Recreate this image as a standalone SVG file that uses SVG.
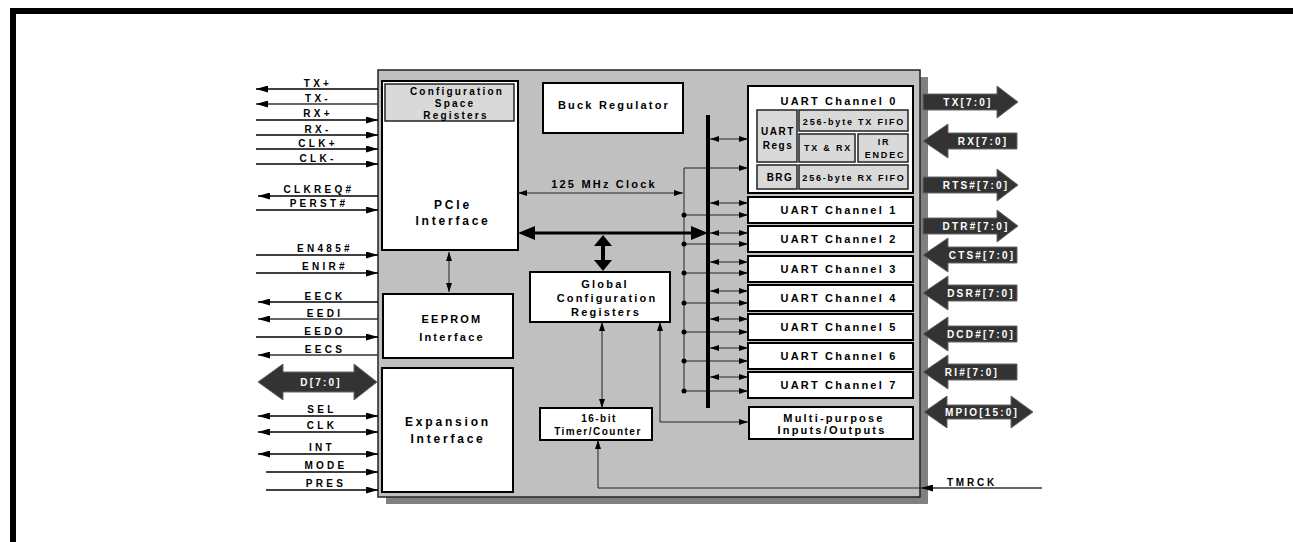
<svg xmlns="http://www.w3.org/2000/svg" width="1293" height="542" viewBox="0 0 1293 542">
<style>
text{font-family:"Liberation Sans",Arial,sans-serif;font-weight:bold;fill:#000;text-anchor:middle}
.sig{font-size:10px;letter-spacing:3.3px}
.b11{font-size:11px;letter-spacing:2.2px}
.b12{font-size:12px;letter-spacing:2.8px}
.s10{font-size:10px;letter-spacing:1.5px}
.cfg{font-size:10px;letter-spacing:2.2px}
.s9{font-size:9px;letter-spacing:1.8px}
.box{fill:#fff;stroke:#000;stroke-width:2}
.sub{fill:#d9d9d9;stroke:#222;stroke-width:1.5}
.ln{stroke:#000;stroke-width:1.5;fill:none}
.thin{stroke:#222;stroke-width:1;fill:none}
.fat{fill:#333;stroke:#666;stroke-width:1}
.fl{fill:#fff;font-size:10px;letter-spacing:2.2px}
</style>
<defs>
<marker id="ah" viewBox="0 0 12 7" refX="12" refY="3.5" markerWidth="12" markerHeight="7" markerUnits="userSpaceOnUse" orient="auto-start-reverse"><path d="M0,0 L12,3.5 L0,7 z" fill="#000"/></marker>
<marker id="as" viewBox="0 0 9 6" refX="9" refY="3" markerWidth="9" markerHeight="6" markerUnits="userSpaceOnUse" orient="auto-start-reverse"><path d="M0,0 L9,3 L0,6 z" fill="#000"/></marker>
</defs>
<rect width="1293" height="542" fill="#fff"/>
<rect x="10" y="8" width="1283" height="6" fill="#000"/>
<rect x="10" y="8" width="6" height="534" fill="#000"/>

<g id="chip">
<rect x="386" y="77" width="542" height="427" fill="#808080"/>
<rect x="378" y="70" width="542" height="427" fill="#c0c0c0" stroke="#222" stroke-width="1.5"/>
</g>

<g id="pcie">
<rect class="box" x="382" y="81" width="136" height="169"/>
<rect class="sub" x="385" y="84" width="129" height="37"/>
<text class="cfg" x="457" y="95">Configuration</text>
<text class="cfg" x="455" y="107">Space</text>
<text class="cfg" x="456" y="119">Registers</text>
<text class="b12" x="453" y="209">PCIe</text>
<text class="b12" x="453" y="225">Interface</text>
</g>
<g id="eeprom">
<rect class="box" x="383" y="294" width="130" height="64"/>
<text class="b11" x="452" y="323">EEPROM</text>
<text class="b11" x="452" y="341">Interface</text>
</g>
<g id="expansion">
<rect class="box" x="382" y="368" width="131" height="124"/>
<text class="b12" x="448" y="426">Expansion</text>
<text class="b12" x="448" y="443">Interface</text>
</g>
<g id="buck">
<rect class="box" x="543" y="83" width="140" height="50"/>
<text class="b11" x="614" y="109">Buck Regulator</text>
</g>
<g id="global">
<rect class="box" x="530" y="272" width="140" height="50"/>
<text class="b11" x="605" y="288">Global</text>
<text class="b11" x="607" y="302">Configuration</text>
<text class="b11" x="606" y="316">Registers</text>
</g>
<g id="timer">
<rect class="box" x="540" y="408" width="112" height="32"/>
<text class="s10" x="599" y="422">16-bit</text>
<text class="s10" x="598" y="435">Timer/Counter</text>
</g>
<g id="uart0">
<rect class="box" x="748" y="86" width="165" height="107"/>
<text class="b11" x="839" y="105">UART Channel 0</text>
<rect class="sub" x="757" y="110" width="40" height="52"/>
<text class="s10" x="778" y="135">UART</text>
<text class="s10" x="778" y="149">Regs</text>
<rect class="sub" x="799" y="110" width="109" height="21"/>
<text class="s9" x="854" y="124.5">256-byte TX FIFO</text>
<rect class="sub" x="799" y="134" width="56" height="28"/>
<text class="s9" x="828" y="151">TX &amp; RX</text>
<rect class="sub" x="858" y="134" width="50" height="28"/>
<text class="s9" x="884" y="145">IR</text>
<text class="s9" x="885" y="158">ENDEC</text>
<rect class="sub" x="757" y="165" width="40" height="24"/>
<text class="s10" x="780" y="181">BRG</text>
<rect class="sub" x="799" y="165" width="109" height="24"/>
<text class="s9" x="854" y="181">256-byte RX FIFO</text>
</g>
<g id="uart1"><rect class="box" x="748" y="197" width="165" height="26"/><text class="b11" x="839" y="214">UART Channel 1</text></g>
<g id="uart2"><rect class="box" x="748" y="226" width="165" height="26"/><text class="b11" x="839" y="243">UART Channel 2</text></g>
<g id="uart3"><rect class="box" x="748" y="256" width="165" height="26"/><text class="b11" x="839" y="273">UART Channel 3</text></g>
<g id="uart4"><rect class="box" x="748" y="285" width="165" height="26"/><text class="b11" x="839" y="302">UART Channel 4</text></g>
<g id="uart5"><rect class="box" x="748" y="314" width="165" height="26"/><text class="b11" x="839" y="331">UART Channel 5</text></g>
<g id="uart6"><rect class="box" x="748" y="343" width="165" height="26"/><text class="b11" x="839" y="360">UART Channel 6</text></g>
<g id="uart7"><rect class="box" x="748" y="372" width="165" height="26"/><text class="b11" x="839" y="389">UART Channel 7</text></g>
<g id="mpio">
<rect class="box" x="749" y="407" width="164" height="32"/>
<text class="b11" x="834" y="422">Multi-purpose</text>
<text class="b11" x="832" y="434">Inputs/Outputs</text>
</g>

<g id="connectors">
<g class="ln">
<line x1="256" y1="89" x2="378" y2="89" marker-start="url(#ah)"/>
<line x1="256" y1="104" x2="378" y2="104" marker-start="url(#ah)" stroke="#333"/>
<line x1="256" y1="120" x2="378" y2="120" marker-end="url(#ah)"/>
<line x1="256" y1="135" x2="378" y2="135" marker-end="url(#ah)"/>
<line x1="256" y1="149" x2="378" y2="149" marker-end="url(#ah)"/>
<line x1="256" y1="164" x2="378" y2="164" marker-end="url(#ah)"/>
<line x1="258" y1="196" x2="378" y2="196" marker-start="url(#ah)"/>
<line x1="256" y1="210" x2="378" y2="210" marker-end="url(#ah)"/>
<line x1="256" y1="255" x2="378" y2="255" marker-end="url(#ah)"/>
<line x1="256" y1="273" x2="378" y2="273" marker-end="url(#ah)"/>
<line x1="258" y1="302" x2="378" y2="302" marker-start="url(#ah)"/>
<line x1="258" y1="319" x2="378" y2="319" marker-start="url(#ah)" stroke="#333"/>
<line x1="256" y1="337" x2="378" y2="337" marker-end="url(#ah)"/>
<line x1="258" y1="355" x2="378" y2="355" marker-start="url(#ah)" stroke="#333"/>
<line x1="258" y1="416" x2="378" y2="416" marker-start="url(#ah)" marker-end="url(#ah)"/>
<line x1="258" y1="432" x2="378" y2="432" marker-start="url(#ah)" marker-end="url(#ah)"/>
<line x1="258" y1="454" x2="378" y2="454" marker-start="url(#ah)" marker-end="url(#ah)"/>
<line x1="266" y1="472" x2="378" y2="472" marker-end="url(#ah)"/>
<line x1="266" y1="490" x2="378" y2="490" marker-end="url(#ah)"/>
<line x1="1042" y1="488" x2="921" y2="488" marker-end="url(#ah)" stroke="#333"/>
</g>
<g class="thin">
<line x1="449" y1="252" x2="449" y2="292" marker-start="url(#as)" marker-end="url(#as)"/>
<line x1="518" y1="193" x2="683" y2="193" marker-start="url(#as)" marker-end="url(#as)"/>
<line x1="684" y1="168" x2="684" y2="391"/>
<line x1="684" y1="168" x2="748" y2="168" marker-end="url(#as)"/>
<line x1="684" y1="215" x2="748" y2="215" marker-end="url(#as)"/>
<line x1="684" y1="244" x2="748" y2="244" marker-end="url(#as)"/>
<line x1="684" y1="273" x2="748" y2="273" marker-end="url(#as)"/>
<line x1="684" y1="303" x2="748" y2="303" marker-end="url(#as)"/>
<line x1="684" y1="332" x2="748" y2="332" marker-end="url(#as)"/>
<line x1="684" y1="361" x2="748" y2="361" marker-end="url(#as)"/>
<line x1="684" y1="391" x2="748" y2="391" marker-end="url(#as)"/>
<line x1="710" y1="139" x2="748" y2="139" marker-start="url(#as)" marker-end="url(#as)"/>
<line x1="710" y1="203" x2="748" y2="203" marker-start="url(#as)" marker-end="url(#as)"/>
<line x1="710" y1="233" x2="748" y2="233" marker-start="url(#as)" marker-end="url(#as)"/>
<line x1="710" y1="262" x2="748" y2="262" marker-start="url(#as)" marker-end="url(#as)"/>
<line x1="710" y1="291" x2="748" y2="291" marker-start="url(#as)" marker-end="url(#as)"/>
<line x1="710" y1="319" x2="748" y2="319" marker-start="url(#as)" marker-end="url(#as)"/>
<line x1="710" y1="348" x2="748" y2="348" marker-start="url(#as)" marker-end="url(#as)"/>
<line x1="710" y1="377" x2="748" y2="377" marker-start="url(#as)" marker-end="url(#as)"/>
<line x1="602" y1="322" x2="602" y2="408" marker-start="url(#as)" marker-end="url(#as)"/>
<path d="M660,322 V422 H748" marker-start="url(#as)" marker-end="url(#as)"/>
<path d="M920,488 H598 V440" marker-end="url(#as)"/>
</g>
<g fill="#000">
<circle cx="684" cy="215" r="2.5"/><circle cx="684" cy="244" r="2.5"/><circle cx="684" cy="273" r="2.5"/>
<circle cx="684" cy="303" r="2.5"/><circle cx="684" cy="332" r="2.5"/><circle cx="684" cy="361" r="2.5"/>
<circle cx="684" cy="391" r="2.5"/>
<rect x="706" y="115" width="4" height="293"/>
<rect x="533" y="231.5" width="160" height="3"/>
<polygon points="518,233 535,226 535,240"/>
<polygon points="708,233 691,226 691,240"/>
<rect x="601" y="244" width="4" height="18"/>
<polygon points="603,235 594,246 612,246"/>
<polygon points="603,271 594,260 612,260"/>
</g>
</g>

<g id="labels">
<text class="sig" x="318" y="87">TX+</text>
<text class="sig" x="318" y="102">TX-</text>
<text class="sig" x="318" y="117">RX+</text>
<text class="sig" x="318" y="133">RX-</text>
<text class="sig" x="318" y="147">CLK+</text>
<text class="sig" x="318" y="162">CLK-</text>
<text class="sig" x="319" y="193">CLKREQ#</text>
<text class="sig" x="319" y="207">PERST#</text>
<text class="sig" x="325" y="252">EN485#</text>
<text class="sig" x="325" y="270">ENIR#</text>
<text class="sig" x="325" y="300">EECK</text>
<text class="sig" x="325" y="317">EEDI</text>
<text class="sig" x="325" y="335">EEDO</text>
<text class="sig" x="325" y="353">EECS</text>
<text class="sig" x="322" y="413">SEL</text>
<text class="sig" x="322" y="429">CLK</text>
<text class="sig" x="322" y="451">INT</text>
<text class="sig" x="326" y="469">MODE</text>
<text class="sig" x="326" y="487">PRES</text>
<text class="b11" x="604" y="188">125 MHz Clock</text>
<text class="sig" x="972" y="486" style="letter-spacing:2.8px">TMRCK</text>
</g>

<g id="buses">
<path class="fat" d="M258,382 L283,364 V372 H354 V364 L377,382 L354,400 V392 H283 V400 Z"/>
<text class="fl" x="321" y="386">D[7:0]</text>
<path class="fat" d="M923,94 H997 V86 L1018,102 L997,118 V110 H923 Z"/>
<text class="fl" x="968" y="106">TX[7:0]</text>
<path class="fat" d="M923,141 L948,124 V133 H1017 V149 H948 V158 Z"/>
<text class="fl" x="983" y="145">RX[7:0]</text>
<path class="fat" d="M923,177 H997 V169 L1018,185 L997,201 V193 H923 Z"/>
<text class="fl" x="976" y="189">RTS#[7:0]</text>
<path class="fat" d="M923,218 H997 V210 L1018,226 L997,242 V234 H923 Z"/>
<text class="fl" x="976" y="230">DTR#[7:0]</text>
<path class="fat" d="M923,255 L948,238 V247 H1017 V263 H948 V272 Z"/>
<text class="fl" x="982" y="259">CTS#[7:0]</text>
<path class="fat" d="M923,293 L948,276 V285 H1017 V301 H948 V310 Z"/>
<text class="fl" x="981" y="297">DSR#[7:0]</text>
<path class="fat" d="M923,334 L948,317 V326 H1017 V342 H948 V351 Z"/>
<text class="fl" x="981" y="338">DCD#[7:0]</text>
<path class="fat" d="M923,372 L948,355 V364 H1017 V380 H948 V389 Z"/>
<text class="fl" x="972" y="376">RI#[7:0]</text>
<path class="fat" d="M924,412 L947,396 V405 H1011 V396 L1033,412 L1011,428 V419 H947 V428 Z"/>
<text class="fl" x="982" y="416">MPIO[15:0]</text>
</g>
</svg>
